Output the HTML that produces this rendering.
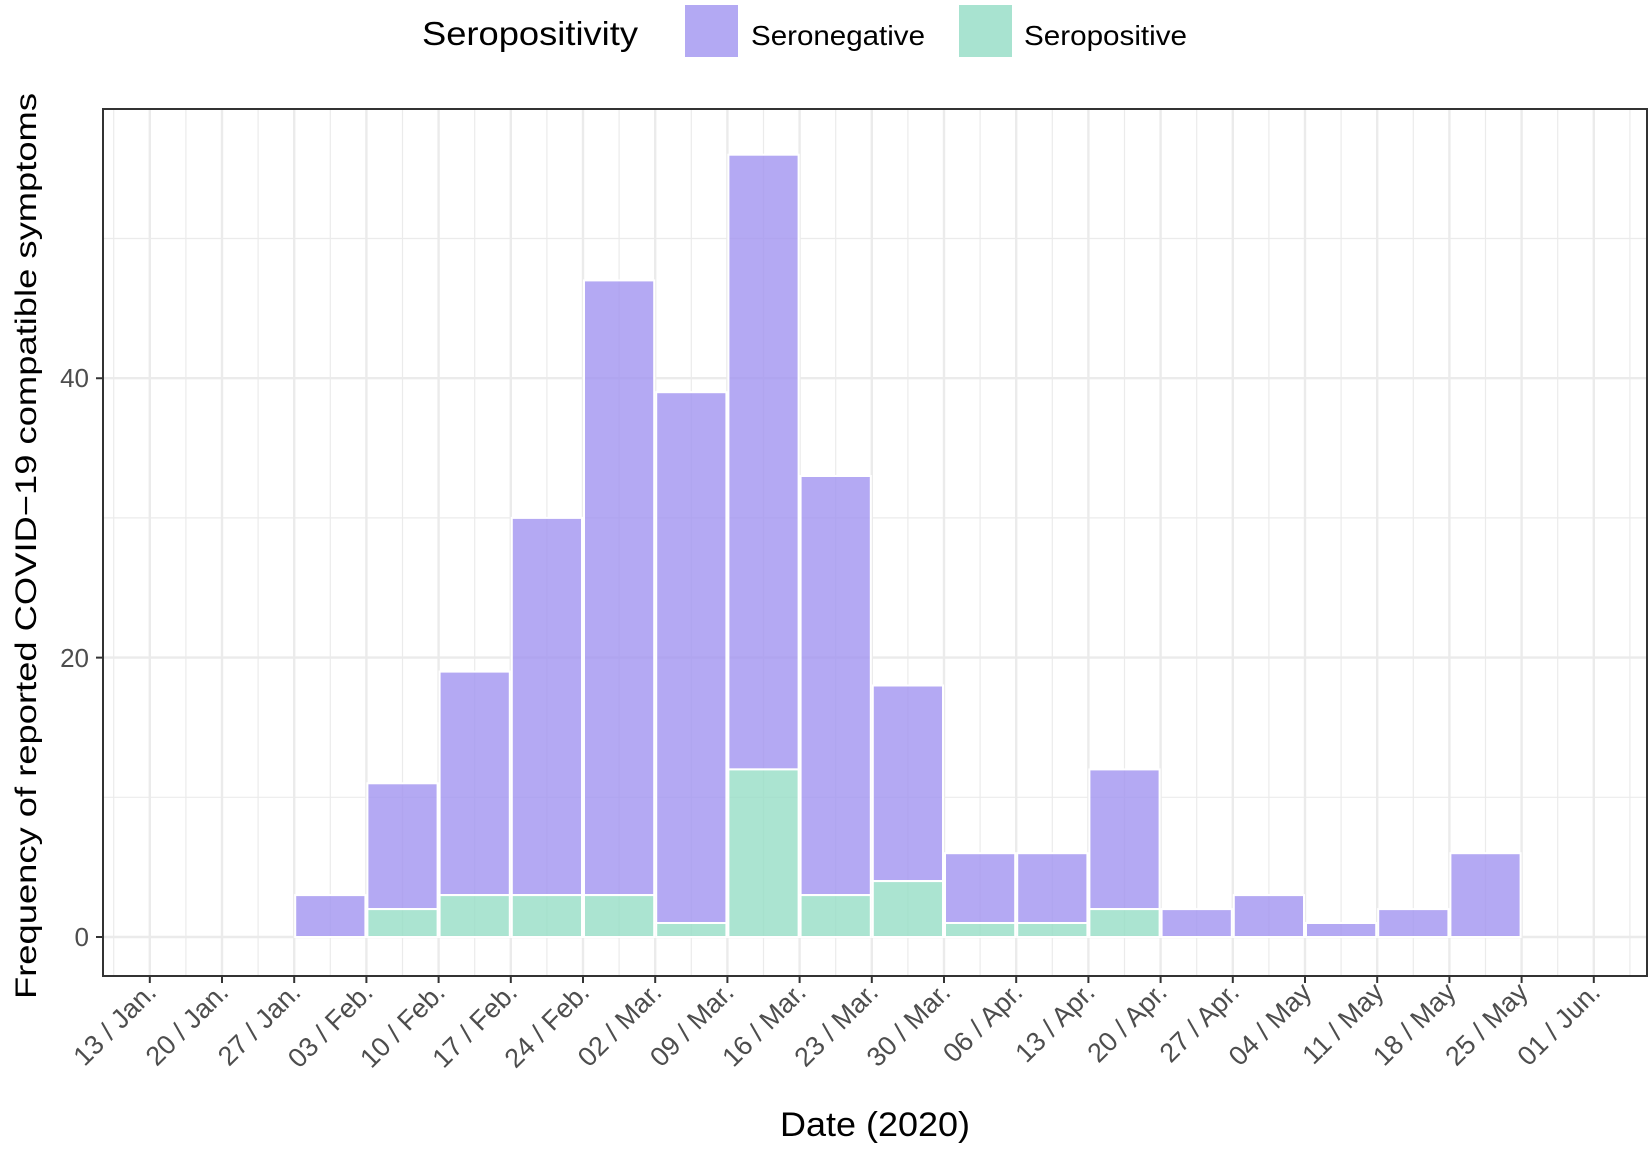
<!DOCTYPE html>
<html><head><meta charset="utf-8"><style>body{margin:0;background:#fff}svg{display:block}</style></head>
<body>
<svg width="1652" height="1149" xmlns="http://www.w3.org/2000/svg" font-family="Liberation Sans, Arial, sans-serif">
<rect width="1652" height="1149" fill="#fff"/>
<!-- legend -->
<text x="422" y="45" font-size="33" textLength="216" lengthAdjust="spacingAndGlyphs" fill="#000">Seropositivity</text>
<rect x="685" y="5" width="53" height="52" fill="#b3a9f3"/>
<text x="751" y="45" font-size="28" textLength="174" lengthAdjust="spacingAndGlyphs" fill="#000">Seronegative</text>
<rect x="959" y="5" width="53" height="52" fill="#a8e3d0"/>
<text x="1024" y="45" font-size="28" textLength="163" lengthAdjust="spacingAndGlyphs" fill="#000">Seropositive</text>
<!-- axis titles -->
<text transform="translate(36,546) rotate(-90)" text-anchor="middle" font-size="30" textLength="906" lengthAdjust="spacingAndGlyphs" fill="#000">Frequency of reported COVID−19 compatible symptoms</text>
<text x="875" y="1136" text-anchor="middle" font-size="34" textLength="190" lengthAdjust="spacingAndGlyphs" fill="#000">Date (2020)</text>
<g transform="translate(-3,0)">
<!-- minor grid -->
<g stroke="#ebebeb" stroke-width="1.2">
<path d="M106 797.3H1650M106 517.9H1650M106 238.5H1650"/>
<path d="M116.7 109V976M188.9 109V976M261.1 109V976M333.3 109V976M405.5 109V976M477.7 109V976M549.9 109V976M622.1 109V976M694.3 109V976M766.5 109V976M838.7 109V976M910.9 109V976M983.1 109V976M1055.3 109V976M1127.5 109V976M1199.7 109V976M1271.9 109V976M1344.1 109V976M1416.3 109V976M1488.5 109V976M1560.7 109V976M1632.9 109V976"/>
</g>
<g stroke="#ebebeb" stroke-width="2.4">
<path d="M106 937H1650M106 657.6H1650M106 378.2H1650"/>
<path d="M152.8 109V976M225 109V976M297.2 109V976M369.4 109V976M441.6 109V976M513.8 109V976M586 109V976M658.2 109V976M730.4 109V976M802.6 109V976M874.8 109V976M947 109V976M1019.2 109V976M1091.4 109V976M1163.6 109V976M1235.8 109V976M1308 109V976M1380.2 109V976M1452.4 109V976M1524.6 109V976M1596.8 109V976"/>
</g>
<!-- bars -->
<g fill="#a194f0" fill-opacity="0.8" stroke="#fff" stroke-width="2">
<rect x="298.2" y="895.1" width="70.2" height="41.9"/>
<rect x="370.4" y="783.3" width="70.2" height="125.8"/>
<rect x="442.6" y="671.6" width="70.2" height="223.5"/>
<rect x="514.8" y="517.9" width="70.2" height="377.2"/>
<rect x="587" y="280.4" width="70.2" height="614.7"/>
<rect x="659.2" y="392.2" width="70.2" height="530.8"/>
<rect x="731.4" y="154.7" width="70.2" height="614.7"/>
<rect x="803.6" y="476" width="70.2" height="419.1"/>
<rect x="875.8" y="685.5" width="70.2" height="195.6"/>
<rect x="948" y="853.2" width="70.2" height="69.8"/>
<rect x="1020.2" y="853.2" width="70.2" height="69.8"/>
<rect x="1092.4" y="769.4" width="70.2" height="139.7"/>
<rect x="1164.6" y="909.1" width="70.2" height="27.9"/>
<rect x="1236.8" y="895.1" width="70.2" height="41.9"/>
<rect x="1309" y="923" width="70.2" height="14"/>
<rect x="1381.2" y="909.1" width="70.2" height="27.9"/>
<rect x="1453.4" y="853.2" width="70.2" height="83.8"/>
</g>
<g fill="#96ddc5" fill-opacity="0.8" stroke="#fff" stroke-width="2">
<rect x="370.4" y="909.1" width="70.2" height="27.9"/>
<rect x="442.6" y="895.1" width="70.2" height="41.9"/>
<rect x="514.8" y="895.1" width="70.2" height="41.9"/>
<rect x="587" y="895.1" width="70.2" height="41.9"/>
<rect x="659.2" y="923" width="70.2" height="14"/>
<rect x="731.4" y="769.4" width="70.2" height="167.6"/>
<rect x="803.6" y="895.1" width="70.2" height="41.9"/>
<rect x="875.8" y="881.1" width="70.2" height="55.9"/>
<rect x="948" y="923" width="70.2" height="14"/>
<rect x="1020.2" y="923" width="70.2" height="14"/>
<rect x="1092.4" y="909.1" width="70.2" height="27.9"/>
</g>
<!-- x ticks -->
<path stroke="#333" stroke-width="2" d="M152.8 976v7M225 976v7M297.2 976v7M369.4 976v7M441.6 976v7M513.8 976v7M586 976v7M658.2 976v7M730.4 976v7M802.6 976v7M874.8 976v7M947 976v7M1019.2 976v7M1091.4 976v7M1163.6 976v7M1235.8 976v7M1308 976v7M1380.2 976v7M1452.4 976v7M1524.6 976v7M1596.8 976v7"/>
<g font-size="27" fill="#4d4d4d" text-anchor="end">
<text transform="translate(160.8,994) rotate(-45)">13 / Jan.</text>
<text transform="translate(233,994) rotate(-45)">20 / Jan.</text>
<text transform="translate(305.2,994) rotate(-45)">27 / Jan.</text>
<text transform="translate(377.4,994) rotate(-45)">03 / Feb.</text>
<text transform="translate(449.6,994) rotate(-45)">10 / Feb.</text>
<text transform="translate(521.8,994) rotate(-45)">17 / Feb.</text>
<text transform="translate(594,994) rotate(-45)">24 / Feb.</text>
<text transform="translate(666.2,994) rotate(-45)">02 / Mar.</text>
<text transform="translate(738.4,994) rotate(-45)">09 / Mar.</text>
<text transform="translate(810.6,994) rotate(-45)">16 / Mar.</text>
<text transform="translate(882.8,994) rotate(-45)">23 / Mar.</text>
<text transform="translate(955,994) rotate(-45)">30 / Mar.</text>
<text transform="translate(1027.2,994) rotate(-45)">06 / Apr.</text>
<text transform="translate(1099.4,994) rotate(-45)">13 / Apr.</text>
<text transform="translate(1171.6,994) rotate(-45)">20 / Apr.</text>
<text transform="translate(1243.8,994) rotate(-45)">27 / Apr.</text>
<text transform="translate(1316,994) rotate(-45)">04 / May</text>
<text transform="translate(1388.2,994) rotate(-45)">11 / May</text>
<text transform="translate(1460.4,994) rotate(-45)">18 / May</text>
<text transform="translate(1532.6,994) rotate(-45)">25 / May</text>
<text transform="translate(1604.8,994) rotate(-45)">01 / Jun.</text>
</g>
</g>
<rect x="103" y="109" width="1544" height="867" fill="none" stroke="#333" stroke-width="2"/>
<!-- y ticks -->
<path d="M96 937H103M96 657.6H103M96 378.2H103" stroke="#333" stroke-width="2"/>
<g font-size="26" fill="#4d4d4d" text-anchor="end">
<text x="89" y="946">0</text>
<text x="89" y="667">20</text>
<text x="89" y="387">40</text>
</g>
</svg>
</body></html>
